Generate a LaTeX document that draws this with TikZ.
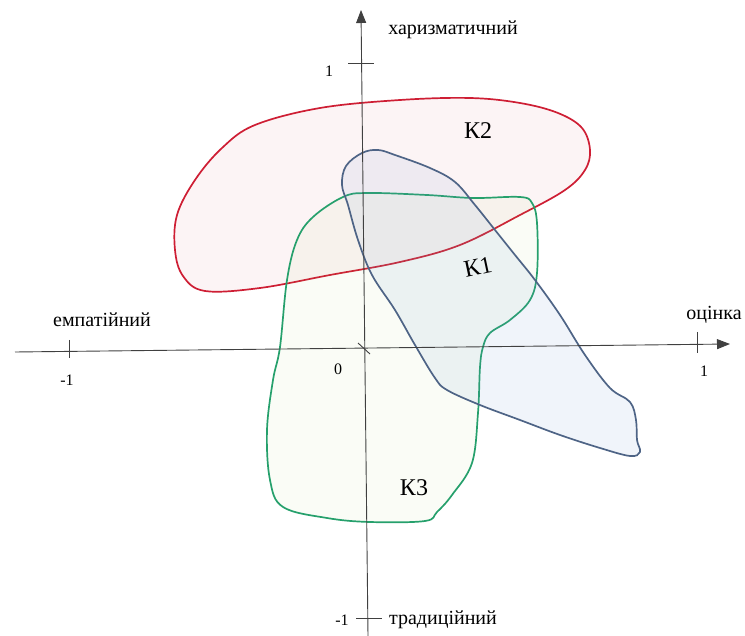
\documentclass[tikz,border=0pt]{standalone}
\usepackage{fontspec}
\setmainfont{Liberation Serif}
\usetikzlibrary{arrows.meta}
\definecolor{kred}{RGB}{206,30,52}
\definecolor{kblue}{RGB}{78,100,134}
\definecolor{kgreen}{RGB}{38,160,108}
\definecolor{kgfill}{RGB}{150,205,80}
\definecolor{kbfill}{RGB}{110,150,210}

\begin{document}
\begin{tikzpicture}[x=1pt,y=-1pt,
  axis/.style={line width=0.9pt,black!75},
  cluster/.style={line width=1.7pt,fill opacity=0.05},
  lab/.style={font=\fontsize{20}{22}\selectfont},
  num/.style={font=\fontsize{16}{18}\selectfont},
  klab/.style={font=\fontsize{24}{26}\selectfont}]
\useasboundingbox (0,0) rectangle (745,636);
% clusters
\draw[cluster,kred,fill=kred] plot[smooth cycle,tension=0.6] coordinates {
  (590,150) (582,128) (558,113) (520,103) (470,98) (400,100) (320,108)
  (255,125) (222,148) (195,180) (177,215) (175,250) (183,276) (205,291)
  (260,288) (330,275) (400,262) (460,245) (520,215) (565,190) (585,170)};
\draw[cluster,kgreen,fill=kgfill] plot[smooth cycle,tension=0.6] coordinates {
  (343,197) (367,193) (427,195) (473,198) (520,197) (532,203) (537,223)
  (537,273) (530,300) (510,320) (490,333) (483,347) (480,367) (478,413)
  (472,463) (452,495) (437,512) (425,521) (370,522) (327,518) (283,507)
  (270,480) (267,430) (273,380) (280,347) (287,280) (297,240) (313,217)};
\draw[cluster,kblue,fill=kbfill,fill opacity=0.1] plot[smooth cycle,tension=0.6] coordinates {
  (378,150) (395,155) (430,168) (455,182) (475,205) (495,230) (515,255)
  (535,280) (560,315) (585,355) (610,388) (630,402) (636,420) (637,440)
  (640,452) (630,456) (600,448) (560,435) (520,420) (480,405) (447,390)
  (435,378) (415,345) (395,310) (372,275) (358,240) (348,205) (342,185)
  (346,166) (362,153)};
% axes
\coordinate (xl) at (15,352);
\coordinate (xr) at (730,344);
\coordinate (yb) at (368,636);
\coordinate (yt) at (361,10);
\draw[axis,-{Triangle[length=13pt,width=10pt]}] (xl) -- (xr);
\draw[axis,-{Triangle[length=13pt,width=10pt]}] (yb) -- (yt);
\draw[axis] (69,340) -- (69,358);
\draw[axis] (697,332) -- (697,353);
\draw[axis] (348,63) -- (374,63);
\draw[axis] (356,618) -- (382,618);
\draw[axis] (358,343) -- (370,354);
% labels
\node[lab] (kh) at (453,30) {харизматичний};
\node[lab] (em) at (102,320) {емпатійний};
\node[lab] (oc) at (714,315) {оцінка};
\node[lab] (tr) at (443,620) {традиційний};
\node[num] (p1) at (329,71) {1};
\node[num] (m1) at (342,620) {-1};
\node[num] (n1) at (67,380) {-1};
\node[num] (q1) at (704,371) {1};
\node[num] (o) at (338,369) {0};
\node[klab] (k2) at (478,131) {К2};
\node[klab,rotate=12] (k1) at (478,267) {К1};
\node[klab] (k3) at (414,488) {К3};
\end{tikzpicture}
\end{document}
